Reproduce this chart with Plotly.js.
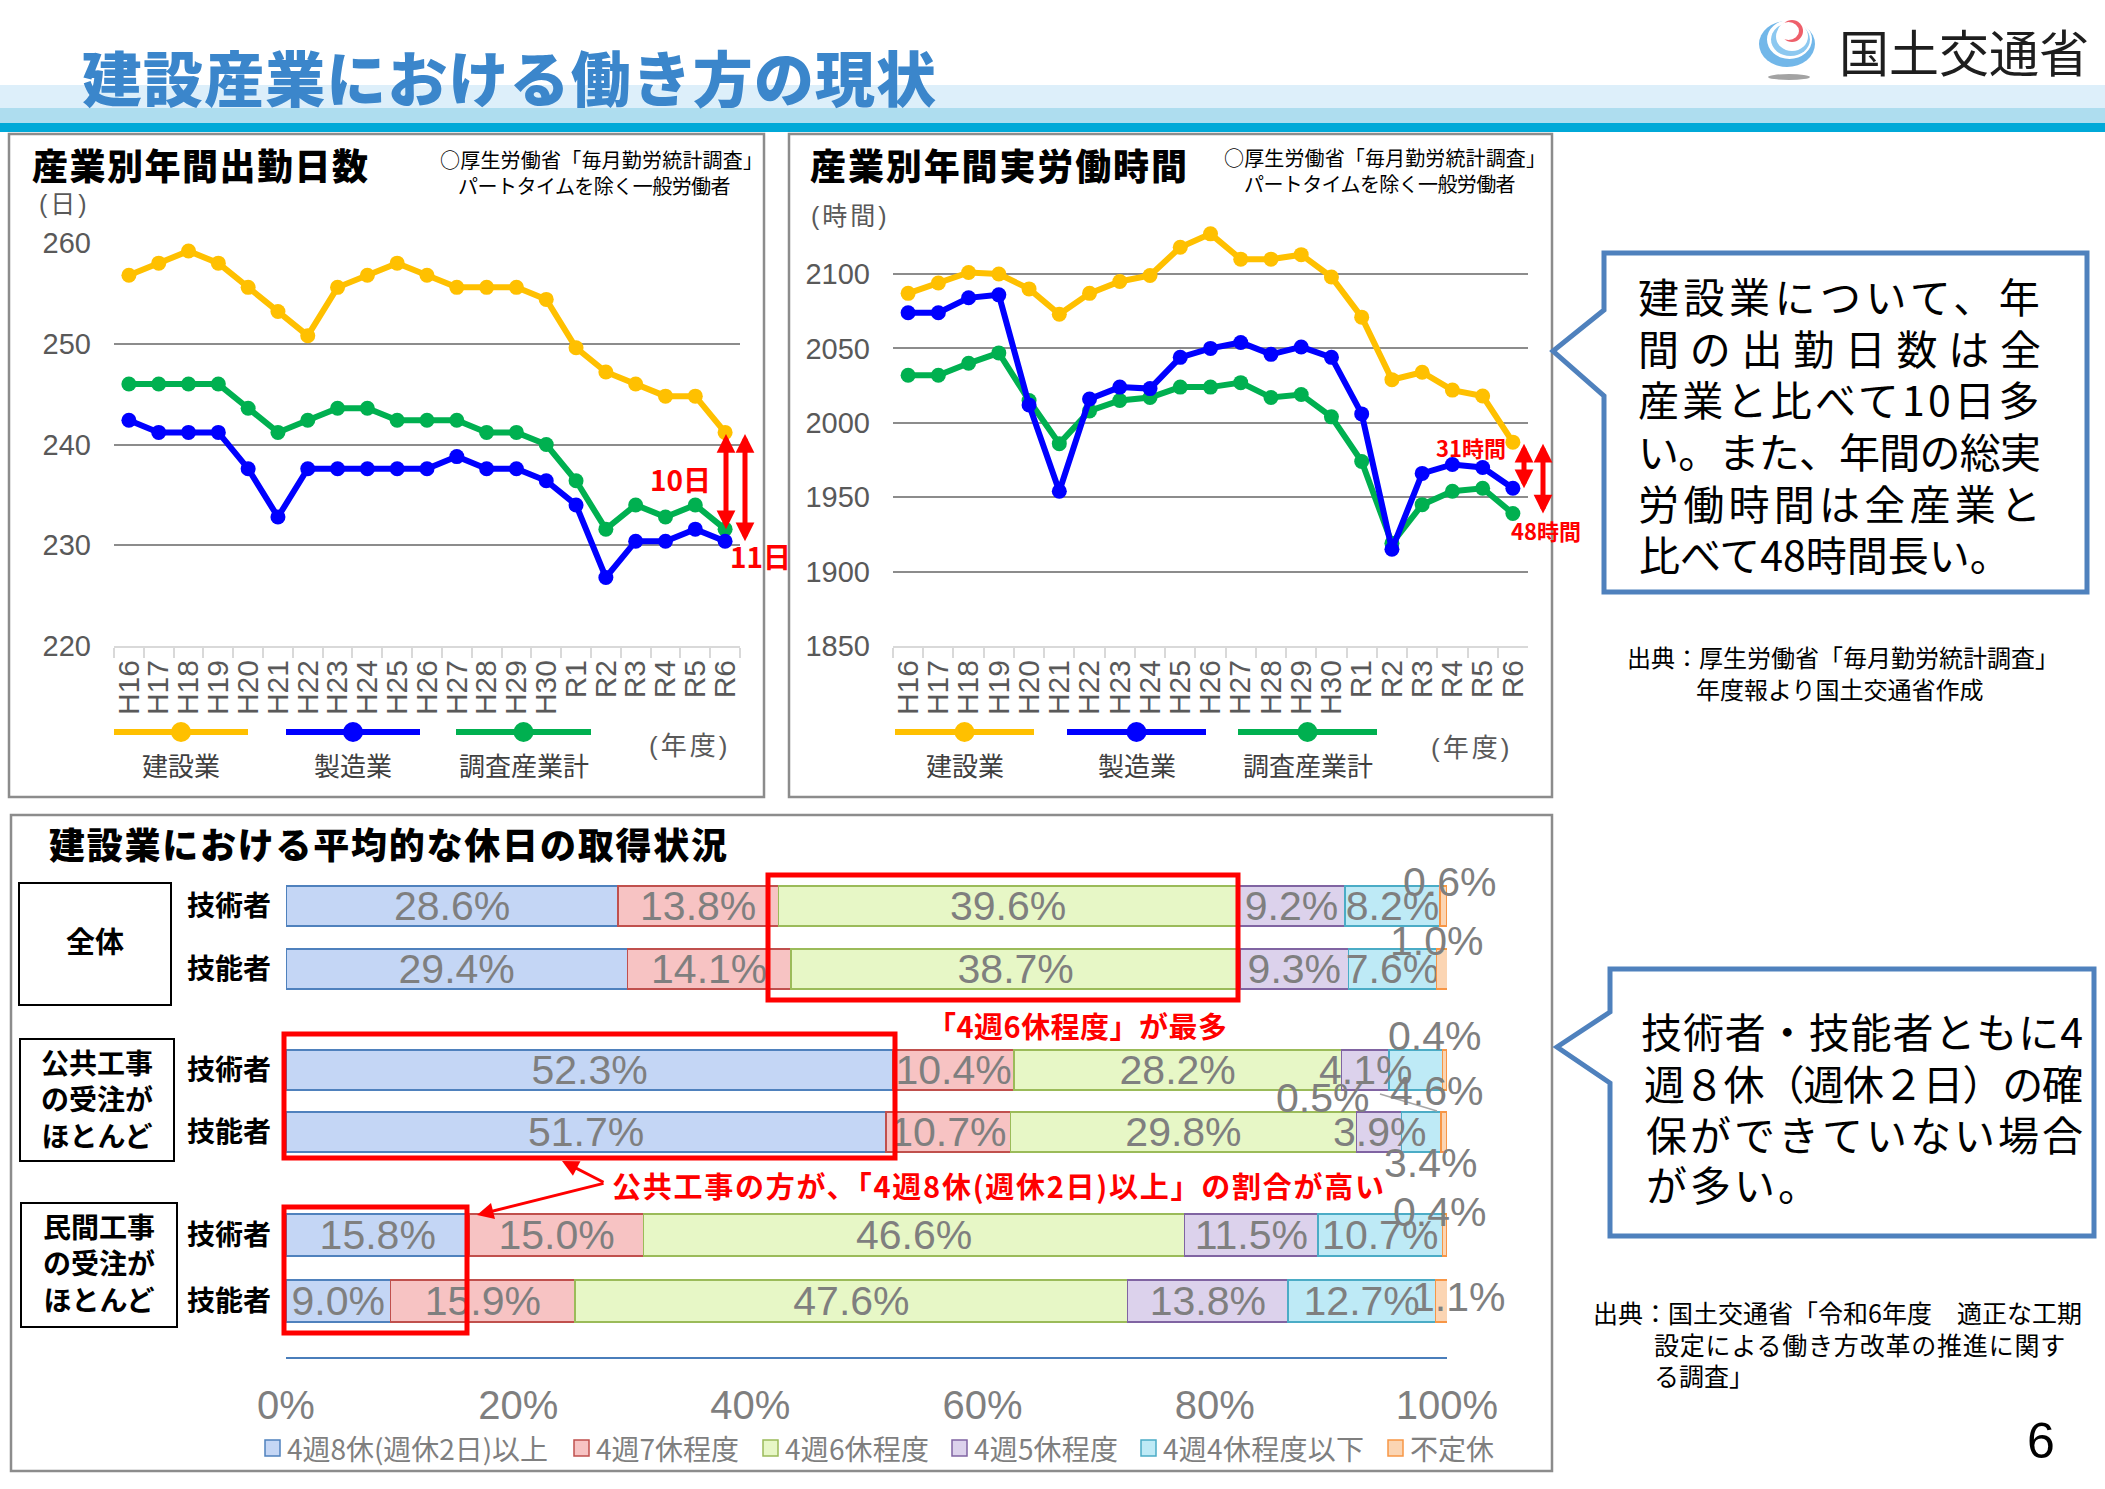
<!DOCTYPE html>
<html>
<head>
<meta charset="utf-8">
<script src="https://cdn.plot.ly/plotly-3.0.1.min.js"></script>
<style>
  html, body { margin: 0; padding: 0; background: #ffffff; }
  #slide { width: 2105px; height: 1489px; }
</style>
</head>
<body>
<div id="slide"></div>
<script>
// ---------------- data ----------------
const fiscalYears = ['H16','H17','H18','H19','H20','H21','H22','H23','H24','H25','H26','H27','H28','H29','H30','R1','R2','R3','R4','R5','R6'];
const industries = ['建設業', '製造業', '調査産業計'];

// annual working days
const daysConstruction  = [256.8,258.0,259.2,258.0,255.6,253.2,250.8,255.6,256.8,258.0,256.8,255.6,255.6,255.6,254.4,249.6,247.2,246.0,244.8,244.8,241.2];
const daysManufacturing = [242.4,241.2,241.2,241.2,237.6,232.8,237.6,237.6,237.6,237.6,237.6,238.8,237.6,237.6,236.4,234.0,226.8,230.4,230.4,231.6,230.4];
const daysAllIndustries = [246.0,246.0,246.0,246.0,243.6,241.2,242.4,243.6,243.6,242.4,242.4,242.4,241.2,241.2,240.0,236.4,231.6,234.0,232.8,234.0,231.6];

// annual actual working hours
const hoursConstruction  = [2087,2094,2101,2100,2090,2073,2087,2095,2099,2118,2127,2110,2110,2113,2098,2071,2029,2034,2022,2018,1987];
const hoursManufacturing = [2074,2074,2084,2086,2012,1954,2016,2024,2023,2044,2050,2054,2046,2051,2044,2006,1915,1966,1972,1970,1956];
const hoursAllIndustries = [2032,2032,2040,2047,2015,1986,2008,2015,2017,2024,2024,2027,2017,2019,2004,1974,1919,1945,1954,1956,1939];

// holiday survey (%), order follows holidayTypes
const holidayTypes = ['4週8休(週休2日)以上', '4週7休程度', '4週6休程度', '4週5休程度', '4週4休程度以下', '不定休'];
const workerTypes = ['技術者', '技能者'];
const groupNames = ['全体', '公共工事の受注がほとんど', '民間工事の受注がほとんど'];
const overallEngineers  = [28.6, 13.8, 39.6, 9.2, 8.2, 0.6];
const overallSkilled    = [29.4, 14.1, 38.7, 9.3, 7.6, 1.0];
const publicEngineers   = [52.3, 10.4, 28.2, 4.1, 4.6, 0.4];
const publicSkilled     = [51.7, 10.7, 29.8, 3.9, 3.4, 0.5];
const privateEngineers  = [15.8, 15.0, 46.6, 11.5, 10.7, 0.4];
const privateSkilled    = [9.0, 15.9, 47.6, 13.8, 12.7, 1.1];
const percentTicks = [0, 20, 40, 60, 80, 100];

// ---------------- helpers ----------------
const W = 2105, H = 1489;
const X = v => v / W;
const Y = v => 1 - v / H;
const JP = '"Noto Sans CJK JP", "Noto Sans", sans-serif';
const LAT = '"Liberation Sans", Arial, "Noto Sans CJK JP", sans-serif';
const NARROW = '"Liberation Sans Narrow", "Arial Narrow", "Liberation Sans", "Noto Sans CJK JP", sans-serif';

const shapes = [];
const annotations = [];
const traces = [];

const measureCtx = document.createElement('canvas').getContext('2d');
function textWidth(str, size, weight, family) {
  measureCtx.font = `${weight} ${size}px ${family}`;
  return measureCtx.measureText(str).width;
}

function rect(x0, y0, x1, y1, lineColor, lineWidth, fill) {
  shapes.push({
    type: 'rect', xref: 'paper', yref: 'paper', layer: 'above',
    x0: X(x0), x1: X(x1), y0: Y(y1), y1: Y(y0),
    line: lineColor ? { color: lineColor, width: lineWidth } : { width: 0 },
    fillcolor: fill || 'rgba(0,0,0,0)'
  });
}
function ellipse(x0, y0, x1, y1, fill) {
  shapes.push({
    type: 'circle', xref: 'paper', yref: 'paper', layer: 'above',
    x0: X(x0), x1: X(x1), y0: Y(y1), y1: Y(y0),
    line: { width: 0 }, fillcolor: fill
  });
}
function segment(x0, y0, x1, y1, color, width) {
  shapes.push({
    type: 'line', xref: 'paper', yref: 'paper', layer: 'above',
    x0: X(x0), x1: X(x1), y0: Y(y0), y1: Y(y1),
    line: { color, width }
  });
}
function polygon(points, color, width, fill) {
  const d = points.map((p, i) => (i ? 'L' : 'M') + X(p[0]).toFixed(6) + ',' + Y(p[1]).toFixed(6)).join(' ') + ' Z';
  shapes.push({ type: 'path', xref: 'paper', yref: 'paper', layer: 'above', path: d, line: { color, width }, fillcolor: fill });
}
function label(str, x, y, size, opts) {
  const o = opts || {};
  annotations.push({
    xref: 'paper', yref: 'paper', x: X(x), y: Y(y), text: str, showarrow: false,
    xanchor: o.anchor || 'center', yanchor: 'middle', align: o.align || 'center',
    font: { family: o.family || JP, size, color: o.color || '#000000', weight: o.weight || 400 }
  });
}
// one line of text stretched (or squeezed) to run from x0 to x1
function spread(str, x0, x1, y, size, weight, color, spacing) {
  const n = Array.from(str).length;
  const ls = spacing !== undefined ? spacing : (x1 - x0 - textWidth(str, size, weight, JP)) / Math.max(n - 1, 1);
  annotations.push({
    xref: 'paper', yref: 'paper', x: X(x0), y: Y(y), xanchor: 'left', yanchor: 'middle',
    text: `<span style="letter-spacing:${ls.toFixed(2)}px">${str}</span>`, showarrow: false,
    font: { family: JP, size, color: color || '#000000', weight }
  });
  return ls;
}
// unit captions such as (日): narrow Latin brackets around the CJK word
function unitCaption(word, cx, y, size) {
  annotations.push({
    xref: 'paper', yref: 'paper', x: X(cx), y: Y(y), xanchor: 'center', yanchor: 'middle', showarrow: false,
    text: `<span style="letter-spacing:3px">(${word})</span>`,
    font: { family: LAT, size, color: '#595959' }
  });
}

// ---------------- header ----------------
rect(0, 85, W, 108, null, 0, '#DDEFFA');
rect(0, 108, W, 123, null, 0, '#AEDDEF');
rect(0, 123, W, 132, null, 0, '#00A9D8');
spread('建設産業における働き方の現状', 80, 934, 75, 60, 900, '#3B86CB');

// ministry mark
ellipse(1759, 21, 1815, 67, '#72B7E9');
ellipse(1767, 20, 1812, 59, '#FFFFFF');
ellipse(1771, 23, 1810, 56, '#8CC8F0');
ellipse(1776, 22, 1808, 51, '#FFFFFF');
ellipse(1781, 20, 1803, 42, '#EE5F6A');
ellipse(1778, 22, 1799, 40, '#FFFFFF');
ellipse(1768, 74, 1810, 80, '#A3A3A3');
label('国土交通省', 1837, 50, 50, { anchor: 'left', color: '#1E1E1E' });

// ---------------- panel frames ----------------
rect(9, 134, 764, 797, '#8C8C8C', 2.5);
rect(789, 134, 1552, 797, '#8C8C8C', 2.5);
rect(11, 815, 1552, 1471, '#8C8C8C', 2.5);

// ---------------- line charts ----------------
const seriesColors = ['#FFC000', '#0000FF', '#00B050'];
const drawOrder = [2, 0, 1];
const daySeries = [daysConstruction, daysManufacturing, daysAllIndustries];
const hourSeries = [hoursConstruction, hoursManufacturing, hoursAllIndustries];
drawOrder.forEach(i => {
  traces.push({ type: 'scatter', mode: 'lines+markers', x: fiscalYears, y: daySeries[i], name: industries[i],
    xaxis: 'x', yaxis: 'y', line: { color: seriesColors[i], width: 6 }, marker: { color: seriesColors[i], size: 15 }, hoverinfo: 'skip' });
});
drawOrder.forEach(i => {
  traces.push({ type: 'scatter', mode: 'lines+markers', x: fiscalYears, y: hourSeries[i], name: industries[i],
    xaxis: 'x2', yaxis: 'y2', line: { color: seriesColors[i], width: 6 }, marker: { color: seriesColors[i], size: 15 }, hoverinfo: 'skip' });
});

// titles and notes
spread('産業別年間出勤日数', 30, 366, 164, 36, 900);
spread('○厚生労働省「毎月勤労統計調査」', 438, 761, 160, 20, 400);
spread('パートタイムを除く一般労働者', 456, 729, 185, 20, 400);
unitCaption('日', 64, 204, 25);

spread('産業別年間実労働時間', 808, 1185, 164, 36, 900);
spread('○厚生労働省「毎月勤労統計調査」', 1222, 1544, 157, 20, 400);
spread('パートタイムを除く一般労働者', 1242, 1514, 183, 20, 400);
unitCaption('時間', 850, 216, 25);

// legends under each line chart
const legendSpans = [
  [[114, 248], [286, 420], [456, 591]],
  [[895, 1034], [1067, 1206], [1238, 1377]]
];
legendSpans.forEach(spans => {
  spans.forEach((s, i) => {
    segment(s[0], 732, s[1], 732, seriesColors[i], 6);
    const cx = (s[0] + s[1]) / 2;
    ellipse(cx - 10, 722, cx + 10, 742, seriesColors[i]);
    label(industries[i], cx, 764, 26, { color: '#404040' });
  });
});
unitCaption('年度', 689, 746, 26);
unitCaption('年度', 1471, 748, 26);

// gap arrows at the latest year
const last = fiscalYears.length - 1;
const dayGapAll = Math.round(daysConstruction[last] - daysAllIndustries[last]);
const dayGapMfg = Math.round(daysConstruction[last] - daysManufacturing[last]);
const hourGapMfg = Math.round(hoursConstruction[last] - hoursManufacturing[last]);
const hourGapAll = Math.round(hoursConstruction[last] - hoursAllIndustries[last]);

function gapArrow(xPx, yFrom, yTo, yref) {
  annotations.push({
    xref: 'paper', yref, x: X(xPx), y: yTo, axref: 'pixel', ayref: yref, ax: 0, ay: yFrom,
    text: '', showarrow: true, arrowside: 'end+start', arrowhead: 2, startarrowhead: 2,
    arrowsize: 0.75, startarrowsize: 0.75, arrowwidth: 5, arrowcolor: '#FF0000', standoff: 0, startstandoff: 0
  });
}
gapArrow(726, daysConstruction[last], daysAllIndustries[last], 'y');
gapArrow(745, daysConstruction[last], daysManufacturing[last], 'y');
gapArrow(1524, hoursConstruction[last], hoursManufacturing[last], 'y2');
gapArrow(1543, hoursConstruction[last], hoursAllIndustries[last], 'y2');
label(dayGapAll + '日', 680, 479, 28, { color: '#FF0000', weight: 700 });
label(dayGapMfg + '日', 760, 556, 28, { color: '#FF0000', weight: 700 });
label(hourGapMfg + '時間', 1471, 447, 22, { color: '#FF0000', weight: 700 });
label(hourGapAll + '時間', 1546, 530, 22, { color: '#FF0000', weight: 700 });

// ---------------- callouts and sources ----------------
polygon([[1604, 253], [2087, 253], [2087, 592], [1604, 592], [1604, 396], [1553, 351], [1604, 310]], '#4F81BD', 5, '#FFFFFF');
const callout1 = ['建設業について、年', '間の出勤日数は全', `産業と比べて${dayGapAll}日多`, 'い。また、年間の総実', '労働時間は全産業と'];
const callout1Y = [295, 347, 398, 450, 502, 553];
callout1.forEach((s, i) => spread(s, 1636, 2039, callout1Y[i], 41, 400));
spread(`比べて${hourGapAll}時間長い。`, 1637, 2000, callout1Y[5], 41, 400, '#000000', 0);

label('出典：厚生労働省「毎月勤労統計調査」', 1843, 657, 24);
label('年度報より国土交通省作成', 1840, 688, 24);

polygon([[1610, 969], [2094, 969], [2094, 1236], [1610, 1236], [1610, 1083], [1557, 1047], [1610, 1012]], '#4F81BD', 5, '#FFFFFF');
spread('技術者・技能者ともに4', 1639, 2081, 1030, 41, 400);
spread('週８休（週休２日）の確', 1642, 2081, 1082, 41, 400);
const ls3 = spread('保ができていない場合', 1644, 2081, 1133, 41, 400);
spread('が多い。', 1644, 1900, 1183, 41, 400, '#000000', ls3);

spread('出典：国土交通省「令和6年度　適正な工期', 1591, 2080, 1312, 25, 400);
spread('設定による働き方改革の推進に関す', 1652, 2064, 1344, 25, 400);
label('る調査」', 1652, 1375, 25, { anchor: 'left' });
label('6', 2041, 1441, 50, { family: LAT });

// ---------------- holiday bar chart ----------------
spread('建設業における平均的な休日の取得状況', 47, 725, 843, 36, 900);

const holidayFill = ['#C4D6F5', '#F7C3C3', '#E7F7C6', '#DCD2EC', '#BEEAF6', '#FBD5B3'];
const holidayEdge = ['#4F81BD', '#C0504D', '#9BBB59', '#8064A2', '#4BACC6', '#F79646'];
const groups = [
  [overallEngineers, overallSkilled],
  [publicEngineers, publicSkilled],
  [privateEngineers, privateSkilled]
];
const pct = v => v.toFixed(1) + '%';
// segments whose value is written beside the bar (page px of the label centre)
const besideLabel = {
  '0-0-5': [1449, 882], '0-1-5': [1436, 941],
  '1-0-5': [1434, 1036], '1-0-4': [1436, 1091],
  '1-1-5': [1322, 1098], '1-1-4': [1430, 1163],
  '2-0-5': [1439, 1212], '2-1-5': [1458, 1297]
};
// narrow segments whose centred label spills over the neighbours
const spillLabel = new Set(['1-0-3', '1-1-3']);
const barFont = { family: NARROW, size: 41, color: '#7F7F7F' };

groups.forEach((rows, g) => {
  holidayTypes.forEach((name, k) => {
    const vals = rows.map(r => r[k]);
    const txt = vals.map((v, r) => {
      const key = `${g}-${r}-${k}`;
      return besideLabel[key] || spillLabel.has(key) ? '' : pct(v);
    });
    traces.push({
      type: 'bar', orientation: 'h', name, y: workerTypes, x: vals,
      xaxis: 'x' + (3 + g), yaxis: 'y' + (3 + g), width: 0.64,
      marker: { color: holidayFill[k], line: { color: holidayEdge[k], width: 1.5 } },
      text: txt, textposition: 'inside', insidetextanchor: 'middle', textangle: 0,
      constraintext: 'none', cliponaxis: false, textfont: barFont, hoverinfo: 'skip'
    });
    vals.forEach((v, r) => {
      const key = `${g}-${r}-${k}`;
      const pos = besideLabel[key];
      if (pos) label(pct(v), pos[0], pos[1], 41, { family: NARROW, color: '#7F7F7F' });
      if (spillLabel.has(key)) {
        const start = rows[r].slice(0, k).reduce((a, b) => a + b, 0);
        annotations.push({
          xref: 'x' + (3 + g), yref: 'y' + (3 + g), x: start + v / 2, y: workerTypes[r],
          text: pct(v), showarrow: false, xanchor: 'center', yanchor: 'middle', font: barFont
        });
      }
    });
  });
});
segment(1380, 1094, 1437, 1111, '#A6A6A6', 1.5);

// group boxes
rect(19, 883, 171, 1005, '#000000', 2);
rect(20, 1039, 174, 1161, '#000000', 2);
rect(21, 1203, 177, 1327, '#000000', 2);
label('全体', 95, 940, 29, { weight: 700 });
label('公共工事<br>の受注が<br>ほとんど', 97, 1098, 28, { weight: 700 });
label('民間工事<br>の受注が<br>ほとんど', 99, 1262, 28, { weight: 700 });

// highlight boxes and remarks
rect(768, 875, 1238, 1000, '#FF0000', 5);
rect(284, 1034, 895, 1158, '#FF0000', 5);
rect(284, 1207, 467, 1333, '#FF0000', 5);
spread('「4週6休程度」が最多', 925, 1225, 1025, 29, 700, '#FF0000');
spread('公共工事の方が、「4週8休(週休2日)以上」の割合が高い', 610, 1382, 1185, 29, 700, '#FF0000');
annotations.push({ xref: 'paper', yref: 'paper', x: X(562), y: Y(1161), axref: 'pixel', ayref: 'pixel', ax: 43, ay: 22,
  text: '', showarrow: true, arrowhead: 2, arrowsize: 1.1, arrowwidth: 3, arrowcolor: '#FF0000', standoff: 0 });
annotations.push({ xref: 'paper', yref: 'paper', x: X(477), y: Y(1215), axref: 'pixel', ayref: 'pixel', ax: 128, ay: -32,
  text: '', showarrow: true, arrowhead: 2, arrowsize: 1.1, arrowwidth: 3, arrowcolor: '#FF0000', standoff: 0 });

// legend of holiday categories
const legendBoxX = [265, 574, 763, 952, 1141, 1388];
const legendTextEnd = [546, 737, 927, 1116, 1362, 1492];
holidayTypes.forEach((name, k) => {
  rect(legendBoxX[k], 1440, legendBoxX[k] + 15, 1456, holidayEdge[k], 1.5, holidayFill[k]);
  spread(name, legendBoxX[k] + 20, legendTextEnd[k], 1448, 28, 400, '#7F7F7F');
});

// ---------------- axes ----------------
const lineX = (dom, anchor) => ({
  domain: dom, anchor, type: 'category', range: [-0.5, fiscalYears.length - 0.5],
  tickmode: 'array', tickvals: fiscalYears, ticktext: fiscalYears,
  showline: true, linecolor: '#D9D9D9', linewidth: 2, ticks: 'outside', tickson: 'boundaries',
  ticklen: 10, tickcolor: '#D9D9D9', tickwidth: 2, tickangle: -90, showgrid: false, zeroline: false,
  tickfont: { family: LAT, size: 30, color: '#595959' }, fixedrange: true
});
const lineY = (dom, anchor, range, dtick, standoff) => ({
  domain: dom, anchor, range, dtick, tick0: range[0], showgrid: true, gridcolor: '#8C8C8C', gridwidth: 2,
  showline: false, zeroline: false, ticks: '', ticklabelstandoff: standoff,
  tickfont: { family: LAT, size: 29, color: '#595959' }, fixedrange: true
});
const barX = (anchor, visible) => ({
  domain: [X(286), X(1447)], anchor, range: [0, 100], visible,
  showline: true, linecolor: '#4A7EBB', linewidth: 2, ticks: '', showgrid: false, zeroline: false,
  tickmode: 'array', tickvals: percentTicks, ticktext: percentTicks.map(v => v + '%'), ticklabelstandoff: 12,
  tickfont: { family: NARROW, size: 40, color: '#7F7F7F' }, fixedrange: true
});
const barY = (top, bottom, anchor, range) => ({
  domain: [Y(bottom), Y(top)], anchor, type: 'category', categoryorder: 'array', categoryarray: workerTypes,
  range, showgrid: false, zeroline: false, showline: false, ticks: '', ticklabelstandoff: 14,
  tickfont: { family: JP, size: 28, color: '#000000', weight: 700 }, fixedrange: true
});

const layout = {
  width: W, height: H, margin: { l: 0, r: 0, t: 0, b: 0 },
  paper_bgcolor: '#FFFFFF', plot_bgcolor: 'rgba(0,0,0,0)', showlegend: false,
  barmode: 'stack', font: { family: JP },
  xaxis: lineX([X(114), X(740)], 'y'),
  yaxis: lineY([Y(646), Y(243)], 'x', [220, 260], 10, 22),
  xaxis2: lineX([X(893), X(1528)], 'y2'),
  yaxis2: lineY([Y(646), Y(214.5)], 'x2', [1850, 2140], 50, 22),
  xaxis3: barX('y3', false),
  yaxis3: barY(874.5, 1000.5, 'x3', [1.5, -0.5]),
  xaxis4: barX('y4', false),
  yaxis4: barY(1039, 1163, 'x4', [1.5, -0.5]),
  xaxis5: barX('y5', true),
  yaxis5: barY(1202, 1357, 'x5', [1.85, -0.5]),
  shapes, annotations
};

Plotly.newPlot('slide', traces, layout, { staticPlot: true, displayModeBar: false });
</script>
</body>
</html>
